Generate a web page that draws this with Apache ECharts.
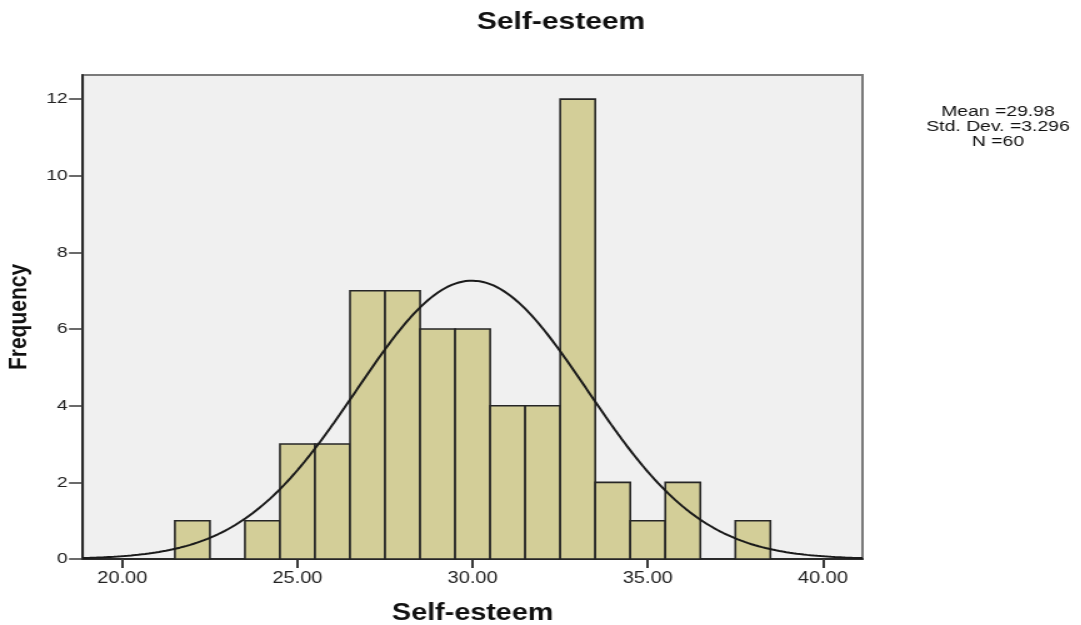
<!DOCTYPE html>
<html>
<head>
<meta charset="utf-8">
<script src="https://cdn.jsdelivr.net/npm/echarts@6/dist/echarts.min.js"></script>
<style>
  html, body { margin: 0; padding: 0; background: #ffffff; overflow: hidden; }
  #wrap { width: 1081px; height: 625px; overflow: hidden; }
  /* the chart is laid out narrow and stretched sideways, like the exported graph */
  #chart { width: 864.8px; height: 625px; transform: scaleX(1.25); transform-origin: 0 0; }
</style>
</head>
<body>
<div id="wrap"><div id="chart"></div></div>
<script>
// Histogram bins: bin centre (width 1) and frequency
const binCenters = [22, 24, 25, 26, 27, 28, 29, 30, 31, 32, 33, 34, 35, 36, 38];
const binCounts  = [1, 1, 3, 3, 7, 7, 6, 6, 4, 4, 12, 2, 1, 2, 1];
const binWidth = 1;

// Summary statistics shown beside the plot
const statMean = 29.98;
const statSd = 3.296;
const statN = 60;

// Axis ticks
const xTicks = [20, 25, 30, 35, 40];
const yTicks = [0, 2, 4, 6, 8, 10, 12];
const xMin = 18.87, xMax = 41.13;
const yMax = 12.63;

// Fitted normal curve scaled to counts: N * binWidth * pdf(x)
const curve = [];
for (let i = 0; i <= 450; i++) {
  const x = xMin + (xMax - xMin) * i / 450;
  const z = (x - statMean) / statSd;
  const y = statN * binWidth * Math.exp(-0.5 * z * z) / (statSd * Math.sqrt(2 * Math.PI));
  curve.push([x, y]);
}

const barData = binCenters.map((c, i) => [c, binCounts[i]]);

const chart = echarts.init(document.getElementById('chart'), null, { renderer: 'canvas' });

const FONT = "'Liberation Sans', Arial, sans-serif";

chart.setOption({
  animation: false,
  backgroundColor: '#ffffff',
  title: {
    text: 'Self-esteem',
    left: 443.8,
    top: 5,
    textAlign: 'center',
    textStyle: { fontFamily: FONT, fontSize: 24, fontWeight: 'bold', color: '#111' }
  },
  grid: {
    left: 66.2, right: 175, top: 75, bottom: 66,
    outerBoundsMode: 'none',
    containLabel: false,
    show: true,
    backgroundColor: '#f0f0f0',
    borderColor: '#7a7a7a',
    borderWidth: 2
  },
  xAxis: {
    type: 'value',
    min: xMin, max: xMax,
    name: 'Self-esteem',
    nameLocation: 'middle',
    nameGap: 43,
    nameTextStyle: { fontFamily: FONT, fontSize: 23, fontWeight: 'bold', color: '#111' },
    splitLine: { show: false },
    axisLine: { show: true, onZero: false, lineStyle: { color: '#2b2b2b', width: 2 } },
    axisTick: { show: true, length: 9, customValues: xTicks, lineStyle: { color: '#3a3a3a', width: 2 } },
    axisLabel: {
      customValues: xTicks,
      margin: 12,
      fontFamily: FONT, fontSize: 16, color: '#222',
      formatter: v => v.toFixed(2)
    }
  },
  yAxis: {
    type: 'value',
    min: 0, max: yMax,
    name: 'Frequency',
    nameLocation: 'middle',
    nameGap: 34,
    nameRotate: 90,
    nameTextStyle: { fontFamily: FONT, fontSize: 21, fontWeight: 'bold', color: '#111' },
    splitLine: { show: false },
    axisLine: { show: true, lineStyle: { color: '#2b2b2b', width: 2 } },
    axisTick: { show: true, length: 11, customValues: yTicks, lineStyle: { color: '#3a3a3a', width: 1.5 } },
    axisLabel: {
      customValues: yTicks,
      margin: 12,
      fontFamily: FONT, fontSize: 15.5, color: '#222'
    }
  },
  graphic: [{
    type: 'text',
    x: 798.4,
    y: 104,
    style: {
      text: 'Mean =' + statMean + '\nStd. Dev. =' + statSd + '\nN =' + statN,
      align: 'center',
      verticalAlign: 'top',
      fontFamily: FONT,
      fontSize: 15.5,
      lineHeight: 15,
      fill: '#111'
    }
  }],
  series: [
    {
      type: 'custom',
      data: barData,
      renderItem: function (params, api) {
        const c = api.value(0);
        const n = api.value(1);
        const p0 = api.coord([c - binWidth / 2, n]);
        const p1 = api.coord([c + binWidth / 2, 0]);
        return {
          type: 'rect',
          shape: { x: p0[0], y: p0[1], width: p1[0] - p0[0], height: p1[1] - p0[1] },
          style: { fill: '#d3ce98', stroke: '#262626', lineWidth: 1.6 }
        };
      },
      z: 2
    },
    {
      type: 'line',
      data: curve,
      showSymbol: false,
      symbol: 'none',
      smooth: false,
      lineStyle: { color: '#1a1a1a', width: 2 },
      z: 3
    }
  ]
});
</script>
</body>
</html>
